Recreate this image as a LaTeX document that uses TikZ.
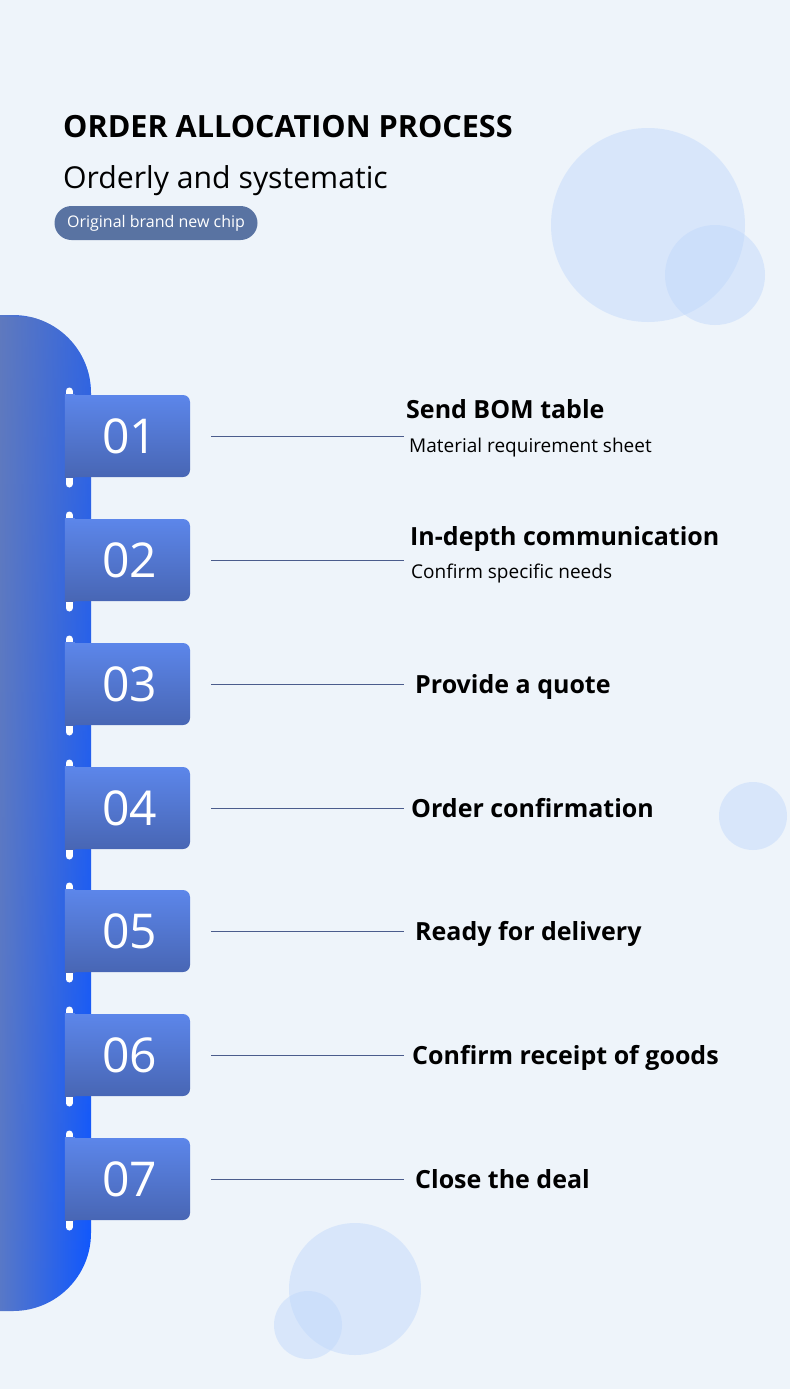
\documentclass[tikz,border=0pt]{standalone}
\usepackage{fontspec}
\setmainfont{Open Sans}
\usetikzlibrary{fadings}
\definecolor{pagebg}{HTML}{EEF4FA}
\definecolor{bubble}{HTML}{BED7FA}
\definecolor{barleft}{HTML}{5878C8}
\definecolor{barright}{HTML}{0F57FF}
\definecolor{barmute}{HTML}{6A7CB0}
\definecolor{boxtop}{HTML}{5C86EA}
\definecolor{boxbottom}{HTML}{4866B4}
\definecolor{badgefill}{HTML}{5973A2}
\definecolor{linkline}{HTML}{4B5C8C}
\begin{document}
\begin{tikzpicture}[x=1pt, y=-1pt,
    numbox/.style={minimum width=125pt, minimum height=82pt, rounded corners=7pt, top color=boxtop, bottom color=boxbottom, inner sep=0pt},
    numtext/.style={text=white, inner sep=0pt, font=\fontsize{48}{48}\selectfont},
    steptitle/.style={anchor=base west, inner sep=0pt, font=\fontsize{25}{25}\selectfont\bfseries},
    stepnote/.style={anchor=base west, inner sep=0pt, font=\fontsize{19}{19}\selectfont},
    link/.style={draw=linkline, line width=1pt},
    bubblefill/.style={fill=bubble, fill opacity=0.45},
    tick/.style={white, line width=7pt, line cap=round}
]
    % Page and bubbles
    \useasboundingbox (0,0) rectangle (790,1389);
    \fill[pagebg] (0,0) rectangle (790,1389);
    \fill[bubblefill] (648,225) circle (97);
    \fill[bubblefill] (715,275) circle (50);
    \fill[bubblefill] (753,816) circle (34);
    \fill[bubblefill] (355,1289) circle (66);
    \fill[bubblefill] (308,1325) circle (34);

    % Heading
    \node[anchor=base west, inner sep=0pt, font=\fontsize{30.6}{30.6}\selectfont\bfseries] (title) at (63,137) {ORDER ALLOCATION PROCESS};
    \node[anchor=base west, inner sep=0pt, font=\fontsize{30.2}{30.2}\selectfont] (subtitle) at (63,188) {Orderly and systematic};
    \node[fill=badgefill, text=white, rounded corners=17pt, minimum width=203pt, minimum height=34pt, inner sep=0pt, font=\fontsize{16}{16}\selectfont] (badge) at (156,223) {Original brand new chip};

    % Side bar
    \begin{scope}
        \clip[rounded corners=78pt] (-100,315) -- (91,315) -- (91,1311) -- (-100,1311) -- cycle;
        \shade[left color=barleft, right color=barright] (0,315) rectangle (91,1311);
        \fill[barmute, path fading=south, fill opacity=0.4] (0,315) rectangle (91,1311);
    \end{scope}

    % Steps
    \foreach \n/\c in {01/436, 02/560, 03/684, 04/808, 05/931, 06/1055, 07/1179} {
        \draw[tick] (69,{\c-45}) -- (69,{\c+48});
        \node[numbox] (b\n) at (127.5,\c) {};
        \shade[top color=boxtop, bottom color=boxbottom] (b\n.north west) rectangle ([xshift=10pt]b\n.south west);
        \node[numtext] (n\n) at ([xshift=2pt]b\n.center) {\n};
        \coordinate (e\n) at (404,\c);
        \draw[link] ([xshift=21pt]b\n.east) -- (e\n);
    }

    % Step texts
    \node[steptitle] (t01) at (406,418) {Send BOM table};
    \node[stepnote] (s01) at (409,452) {Material requirement sheet};
    \node[steptitle] (t02) at (410,545) {In-depth communication};
    \node[stepnote] (s02) at (411,578) {Confirm specific needs};
    \node[steptitle] (t03) at (415,693) {Provide a quote};
    \node[steptitle] (t04) at (411,817) {Order confirmation};
    \node[steptitle] (t05) at (415,940) {Ready for delivery};
    \node[steptitle] (t06) at (412,1064) {Confirm receipt of goods};
    \node[steptitle] (t07) at (415,1188) {Close the deal};
\end{tikzpicture}
\end{document}
